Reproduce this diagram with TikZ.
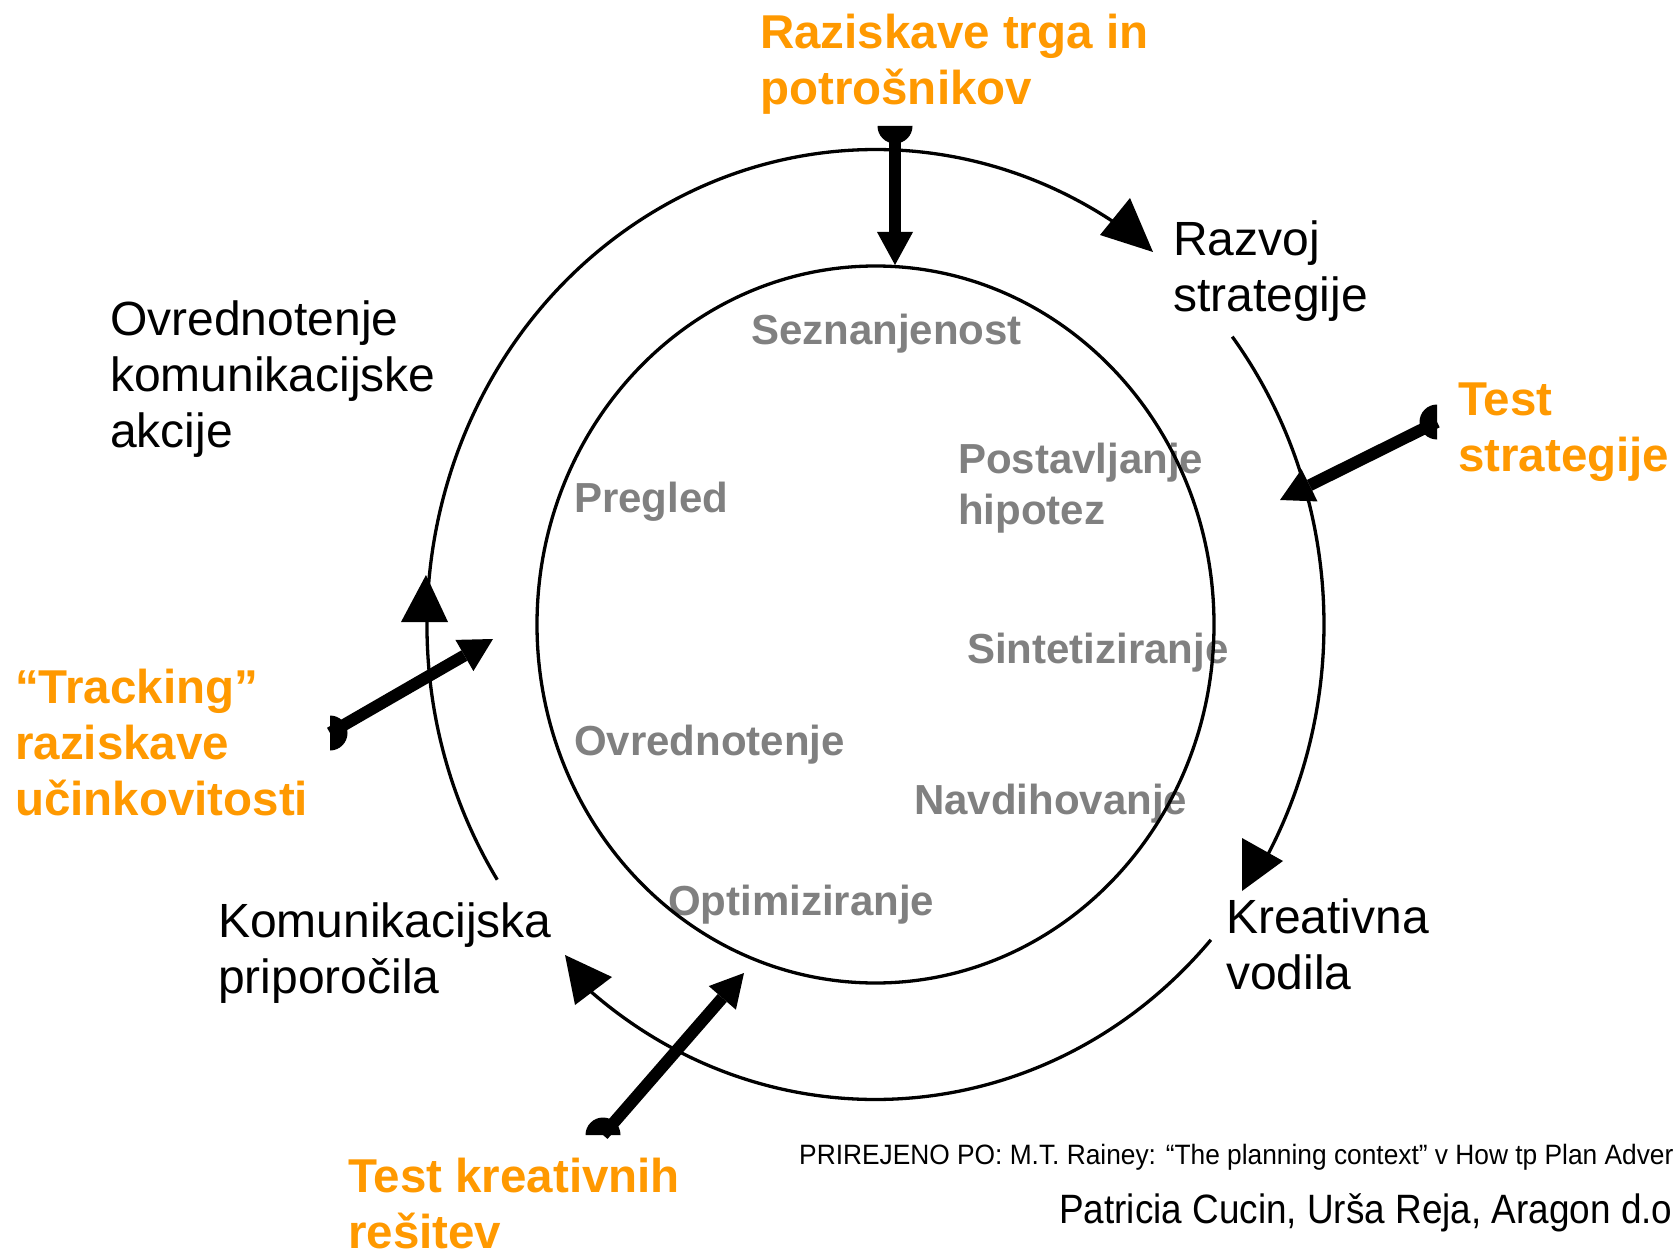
\documentclass[tikz,border=0pt]{standalone}
\usepackage{fontspec}
\setmainfont{Liberation Sans}
\newfontfamily\lblfont{Liberation Sans}
\newfontfamily\srcfont{Liberation Sans}[FakeStretch=0.94]
\newfontfamily\authfont{Liberation Sans}[FakeStretch=0.90]
\usetikzlibrary{arrows.meta,calc}
\definecolor{orng}{RGB}{255,153,0}
\definecolor{gry}{RGB}{128,128,128}
\newcommand\mlines[1]{\begin{tabular}[t]{@{}l@{}}#1\end{tabular}}
\tikzset{
  blacklbl/.style={anchor=base west, inner sep=0pt, font=\lblfont\fontsize{48}{56}\selectfont},
  orangelbl/.style={anchor=base west, inner sep=0pt, text=orng, font=\bfseries\fontsize{47.5}{56}\selectfont},
  graylbl/.style={anchor=base west, inner sep=0pt, text=gry, font=\bfseries\fontsize{42}{51}\selectfont},
  ring/.style={line width=3.3pt},
  bigarrow/.style={line width=12pt, -{Triangle[length=33pt,width=36pt,line width=0pt]}},
}
\begin{document}
\begin{tikzpicture}[x=1pt,y=1pt]
\useasboundingbox (0,0) rectangle (1674,-1252);
\fill[white] (0,0) rectangle (1674,-1252);

% gray inner labels
\node[graylbl] (sez) at (751,-344) {Seznanjenost};
\node[graylbl] (pos) at (958,-473) {\mlines{Postavljanje\\hipotez}};
\node[graylbl] (pre) at (574,-512) {Pregled};
\node[graylbl] (sin) at (967,-663) {Sintetiziranje};
\node[graylbl] (ovr) at (574,-755) {Ovrednotenje};
\node[graylbl] (nav) at (914,-814) {Navdihovanje};
\node[graylbl] (opt) at (668,-915) {Optimiziranje};

% black stage labels
\node[blacklbl] (raz) at (1173,-255) {\mlines{Razvoj\\strategije}};
\node[blacklbl] (ovk) at (110,-335) {\mlines{Ovrednotenje\\komunikacijske\\akcije}};
\node[blacklbl] (kom) at (218,-937) {\mlines{Komunikacijska\\priporočila}};
\node[blacklbl] (kre) at (1226,-933) {\mlines{Kreativna\\vodila}};

% orange research labels
\node[orangelbl] (rtp) at (760,-49) {\mlines{Raziskave trga in\\potrošnikov}};
\node[orangelbl] (tst) at (1458,-415) {\mlines{Test\\strategije}};
\node[orangelbl] (trk) at (15,-703) {\mlines{“Tracking”\\raziskave\\učinkovitosti}};
\node[orangelbl] (tkr) at (348,-1192) {\mlines{Test kreativnih\\rešitev}};

% footer
\node[anchor=base west, inner sep=0pt, font=\srcfont\fontsize{28}{34}\selectfont] (src) at (799,-1164) {PRIREJENO PO: M.T. Rainey: “The planning context” v How tp Plan Adver};
\node[anchor=base west, inner sep=0pt, font=\authfont\fontsize{41}{49}\selectfont] (aut) at (1059,-1223) {Patricia Cucin, Urša Reja, Aragon d.o};

% rings
\coordinate (C) at (875.5,-624.5);
\draw[ring] (C) ellipse[x radius=338.5pt, y radius=358.5pt];
\draw[ring] ([shift={(C)}]212.5:448.5pt and 475pt) arc[start angle=212.5, end angle=55, x radius=448.5pt, y radius=475pt];
\draw[ring] ([shift={(C)}]37.3:448.5pt and 475pt) arc[start angle=37.3, end angle=-31, x radius=448.5pt, y radius=475pt];
\draw[ring] ([shift={(C)}]-41.6:448.5pt and 475pt) arc[start angle=-41.6, end angle=-131, x radius=448.5pt, y radius=475pt];

% thin arrowheads on the ring
\fill (1153,-252) -- (1100,-235) -- (1130,-198) -- cycle;
\fill (1242,-891) -- (1242,-838) -- (1283,-861) -- cycle;
\fill (565,-955) -- (612,-977) -- (575,-1005) -- cycle;
\fill (426,-575) -- (401,-622) -- (448,-622) -- cycle;

% thick research arrows
\coordinate (t1s) at (895,-126);  \coordinate (t1e) at (895,-265);
\coordinate (t2s) at (1437,-422); \coordinate (t2e) at (1280,-500);
\coordinate (t3s) at (330,-733);  \coordinate (t3e) at (493,-639);
\coordinate (t4s) at (603,-1135); \coordinate (t4e) at (744,-973);
\draw[bigarrow] (t1s) -- (t1e);
\draw[bigarrow] (t2s) -- (t2e);
\draw[bigarrow] (t3s) -- (t3e);
\draw[bigarrow] (t4s) -- (t4e);
\fill ([xshift=-17.5pt]t1s) arc[start angle=180, end angle=360, radius=17.5pt] -- cycle;
\fill ([yshift=17.5pt]t2s) arc[start angle=90, end angle=270, radius=17.5pt] -- cycle;
\fill ([yshift=-17.5pt]t3s) arc[start angle=-90, end angle=90, radius=17.5pt] -- cycle;
\fill ([xshift=17.5pt]t4s) arc[start angle=0, end angle=180, radius=17.5pt] -- cycle;
\end{tikzpicture}
\end{document}
